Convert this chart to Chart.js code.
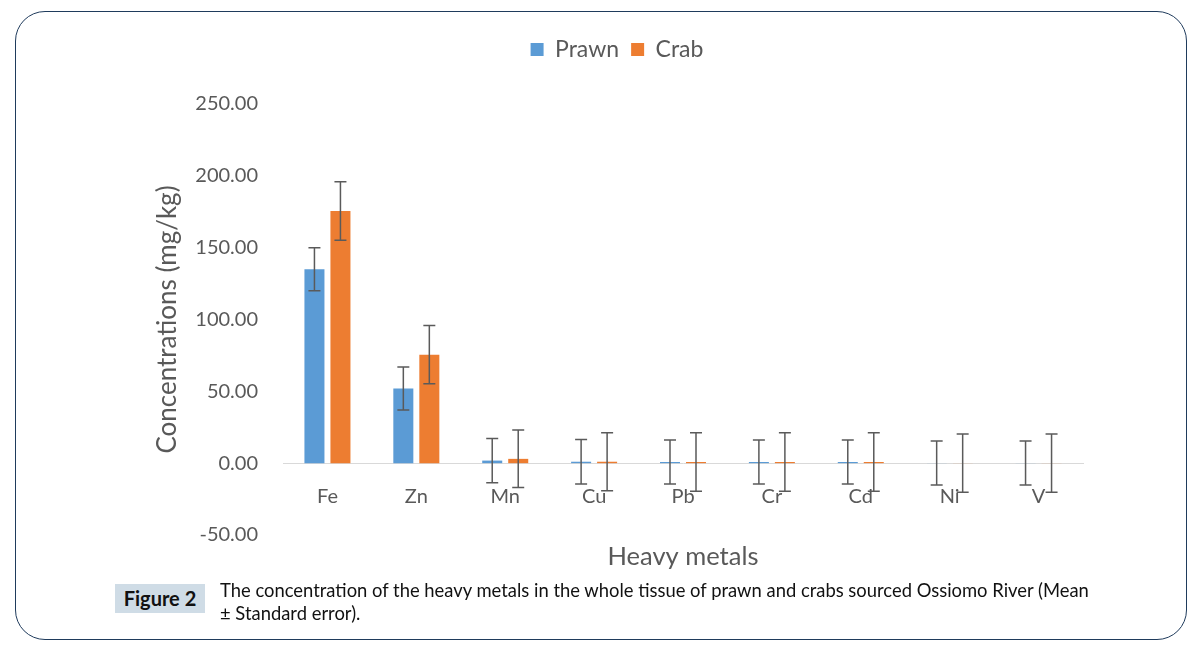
<!DOCTYPE html>
<html>
<head>
<meta charset="utf-8">
<script src="https://cdn.jsdelivr.net/npm/chart.js@4.4.1/dist/chart.umd.min.js"></script>
<style>
    html, body { margin: 0; padding: 0; background: #fff; }
    body { width: 1199px; height: 653px; position: relative; overflow: hidden; font-family: Lato, sans-serif; }
    .card {
        position: absolute; left: 15px; top: 11px; width: 1172px; height: 629px;
        border: 1.5px solid #1f3b5c; border-radius: 30px; box-sizing: border-box;
    }
    .chart-wrap { position: absolute; left: 45px; top: 20px; width: 1144px; height: 570px; }
    .fig-label {
        position: absolute; left: 115px; top: 584px; width: 90px; height: 29px;
        background: #cfdce6; color: #111; font-weight: bold; font-size: 20px;
        line-height: 29px; text-align: center;
    }
    .caption {
        position: absolute; left: 220px; top: 579px; font-size: 18.4px; line-height: 23px;
        color: #111; white-space: nowrap;
    }
</style>
</head>
<body>
<div class="card"></div>
<div class="chart-wrap"><canvas id="metalsChart"></canvas></div>
<div class="fig-label">Figure 2</div>
<div class="caption">The concentration of the heavy metals in the whole tissue of prawn and crabs sourced Ossiomo River (Mean<br>± Standard error).</div>

<script>
const metals = ['Fe', 'Zn', 'Mn', 'Cu', 'Pb', 'Cr', 'Cd', 'Ni', 'V'];
const prawn = [135.0, 52.0, 1.8, 1.0, 0.8, 0.8, 0.8, 0.05, 0.05];
const prawnErr = [15.0, 15.0, 15.4, 15.5, 15.3, 15.3, 15.3, 15.3, 15.3];
const crab = [175.5, 75.5, 3.0, 1.0, 0.8, 0.8, 0.8, 0.05, 0.05];
const crabErr = [20.3, 20.3, 20.0, 20.2, 20.3, 20.3, 20.3, 20.3, 20.3];
const yTicks = [-50, 0, 50, 100, 150, 200, 250];

const textColor = '#595959';

// error bars, drawn on top of bars and labels
const errorBars = {
    id: 'errorBars',
    afterDatasetsDraw(chart) {
        const ctx = chart.ctx;
        const y = chart.scales.y;
        ctx.save();
        ctx.strokeStyle = '#5a5a5a';
        ctx.lineWidth = 1.5;
        chart.data.datasets.forEach((ds, di) => {
            const meta = chart.getDatasetMeta(di);
            meta.data.forEach((bar, i) => {
                const v = ds.data[i], e = ds.errors[i];
                const top = y.getPixelForValue(v + e);
                const bot = y.getPixelForValue(v - e);
                const cap = 6;
                ctx.beginPath();
                ctx.moveTo(bar.x, top); ctx.lineTo(bar.x, bot);
                ctx.moveTo(bar.x - cap, top); ctx.lineTo(bar.x + cap, top);
                ctx.moveTo(bar.x - cap, bot); ctx.lineTo(bar.x + cap, bot);
                ctx.stroke();
            });
        });
        ctx.restore();
    }
};

new Chart(document.getElementById('metalsChart'), {
    type: 'bar',
    data: {
        labels: metals,
        datasets: [
            { label: 'Prawn', data: prawn, errors: prawnErr, backgroundColor: '#5b9bd5', xAxisID: 'x', yAxisID: 'y',
              categoryPercentage: 0.585, barPercentage: 0.77 },
            { label: 'Crab', data: crab, errors: crabErr, backgroundColor: '#ed7d31', xAxisID: 'x', yAxisID: 'y',
              categoryPercentage: 0.585, barPercentage: 0.77 }
        ]
    },
    options: {
        responsive: true, maintainAspectRatio: false, animation: false,
        layout: { padding: { top: 6, left: 0, right: 0, bottom: 0 } },
        plugins: {
            legend: {
                position: 'top',
                labels: { boxWidth: 13, boxHeight: 13, padding: 12, color: textColor, font: { family: 'Lato', size: 23 } }
            },
            tooltip: { enabled: false }
        },
        scales: {
            x: {
                type: 'category',
                position: { y: 0 },
                grid: { display: false, drawTicks: false },
                border: { display: true, color: '#d9d9d9', width: 1 },
                ticks: { color: textColor, padding: 21, font: { family: 'Lato', size: 20 } }
            },
            x2: {
                type: 'category', position: 'bottom',
                grid: { display: false, drawTicks: false }, border: { display: false },
                ticks: { display: false },
                title: { display: true, text: 'Heavy metals', color: textColor, padding: { top: 0, bottom: 18 },
                         font: { family: 'Lato', size: 25.5 } },
                afterFit(s) { s.height = 55; }
            },
            x3: {
                type: 'category', position: 'top',
                grid: { display: false, drawTicks: false }, border: { display: false },
                ticks: { display: false },
                afterFit(s) { s.height = 33; }
            },
            y: {
                min: -50, max: 250,
                grid: { display: false, drawTicks: false },
                border: { display: false },
                afterBuildTicks(s) { s.ticks = yTicks.map(v => ({ value: v })); },
                ticks: { color: textColor, padding: 25, font: { family: 'Lato', size: 20 },
                         callback: v => Number(v).toFixed(2) },
                title: { display: true, text: 'Concentrations (mg/kg)', color: textColor, padding: { top: 107, bottom: 0 },
                         font: { family: 'Lato', size: 26 } },
                afterFit(s) { s.width = 238; }
            },
            y2: {
                type: 'linear', position: 'right',
                grid: { display: false, drawTicks: false }, border: { display: false },
                ticks: { display: false },
                afterFit(s) { s.width = 106; }
            }
        }
    },
    plugins: [errorBars]
});
</script>
</body>
</html>
